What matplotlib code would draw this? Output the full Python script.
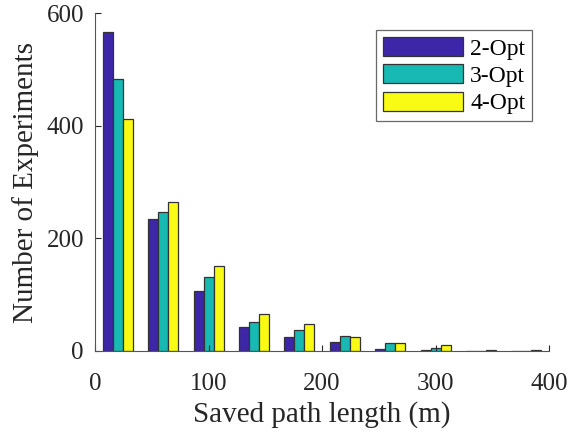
import numpy as np
import matplotlib
matplotlib.use("Agg")
import matplotlib.pyplot as plt

# bin centres (m) and counts per method
bin_centers = [20, 60, 100, 140, 180, 220, 260, 300, 340, 380]
opt2 = [566, 235, 106, 43, 24, 16, 3, 2, 0, 0]
opt3 = [483, 246, 131, 51, 37, 26, 14, 5, 0, 0]
opt4 = [412, 264, 151, 66, 48, 24, 14, 11, 2, 1]
series_names = ["2-Opt", "3-Opt", "4-Opt"]
colors = ["#3e26a8", "#17bab3", "#f9fb14"]

plt.rcParams["font.family"] = ["Liberation Serif", "DejaVu Serif"]

fig = plt.figure(figsize=(5.69, 4.37), dpi=100)
ax = fig.add_axes([0.167, 0.197, 0.798, 0.773])

x = np.array(bin_centers, dtype=float)
w = 8.8
for i, (vals, name, c) in enumerate(zip([opt2, opt3, opt4], series_names, colors)):
    ax.bar(x + (i - 1) * w, vals, width=w, color=c, edgecolor="#333333",
           linewidth=0.9, label=name)

ax.set_xlim(0, 400)
ax.set_ylim(0, 600)
ax.set_xticks([0, 100, 200, 300, 400])
ax.set_yticks([0, 200, 400, 600])
ax.tick_params(direction="in", length=4, labelsize=18, colors="#262626", width=0.8)
ax.tick_params(axis="x", pad=16)
ax.tick_params(axis="y", pad=8)
for s in ["top", "right"]:
    ax.spines[s].set_visible(False)
for s in ["left", "bottom"]:
    ax.spines[s].set_color("#555555")
    ax.spines[s].set_linewidth(0.8)

ax.set_xlabel("Saved path length (m)", fontsize=21, color="#262626", labelpad=4)
ax.set_ylabel("Number of Experiments", fontsize=21, color="#262626", labelpad=5)

leg = ax.legend(loc="upper right", bbox_to_anchor=(0.963, 0.95), fontsize=17,
                handlelength=3.4, handleheight=0.85, frameon=True, fancybox=False,
                borderpad=0.3, labelspacing=0.2, handletextpad=0.3,
                borderaxespad=0)
leg.get_frame().set_edgecolor("#444444")
leg.get_frame().set_linewidth(0.9)

fig.savefig("out.png", dpi=100)
